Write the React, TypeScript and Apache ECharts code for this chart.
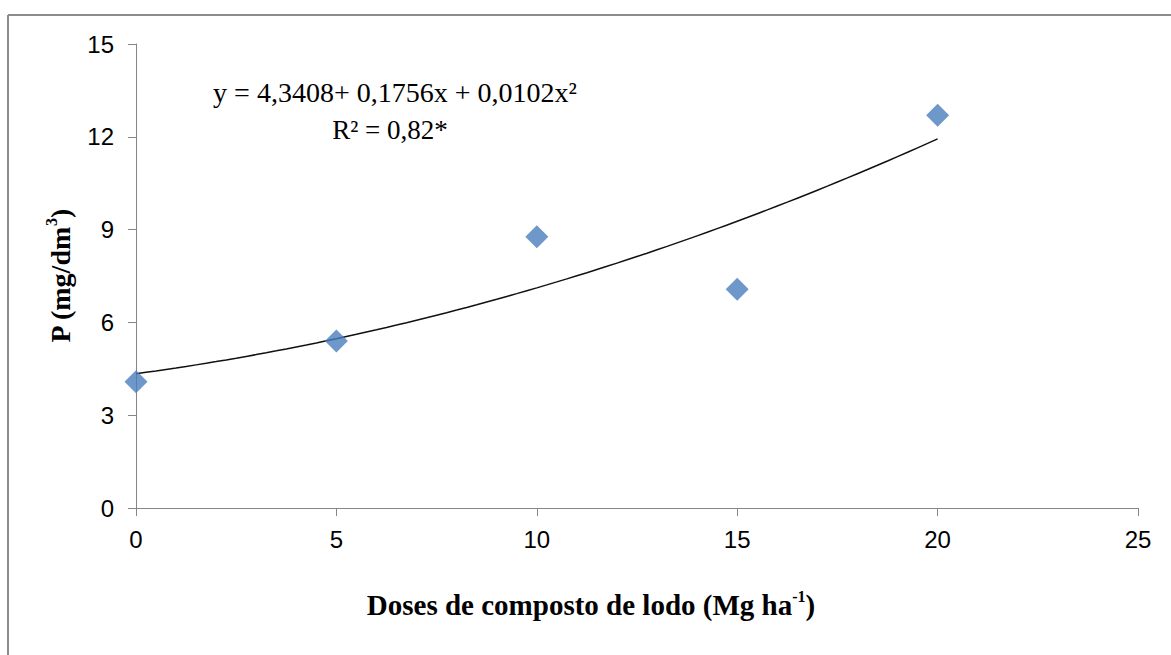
import React, { useEffect, useRef } from "react";
import * as echarts from "echarts";

// Doses of sludge compost (Mg ha-1) and measured soil P (mg/dm3)
const doses = [0, 5, 10, 15, 20];
const phosphorus = [4.08, 5.4, 8.77, 7.07, 12.7];

// Quadratic regression: y = c0 + c1 x + c2 x^2
const coefficients = [4.3408, 0.1756, 0.0102];
const rSquared = "0,82*";

const xTicks = { min: 0, max: 25, interval: 5 };
const yTicks = { min: 0, max: 15, interval: 3 };

const fitCurve = (): number[][] => {
  const pts: number[][] = [];
  const [c0, c1, c2] = coefficients;
  const last = doses[doses.length - 1];
  for (let i = 0; i <= 80; i++) {
    const x = (last * i) / 80;
    pts.push([x, c0 + c1 * x + c2 * x * x]);
  }
  return pts;
};

const fmt = (v: number) => v.toFixed(4).replace(".", ",");

export default function App() {
  const ref = useRef<HTMLDivElement>(null);

  useEffect(() => {
    if (!ref.current) return;
    const chart = echarts.init(ref.current, null, { renderer: "svg" });
    const axisGray = "#868686";
    const serif = "'Liberation Serif', 'Times New Roman', serif";
    const sans = "'Liberation Sans', Arial, sans-serif";

    const equation = `y = ${fmt(coefficients[0])}+ ${fmt(coefficients[1])}x + ${fmt(
      coefficients[2]
    )}x²`;

    const titleRich = (size: number) => ({
      t: { fontFamily: serif, fontWeight: "bold", fontSize: size, color: "#000", lineHeight: 32, verticalAlign: "bottom" },
      s: { fontFamily: serif, fontWeight: "bold", fontSize: 16, color: "#000", lineHeight: 32, verticalAlign: "top", padding: [1, 0, 0, 0] },
    });

    chart.setOption({
      animation: false,
      backgroundColor: "#ffffff",
      grid: { left: 136, right: 33, top: 44, bottom: 147, containLabel: false },
      xAxis: {
        type: "value",
        min: xTicks.min,
        max: xTicks.max,
        interval: xTicks.interval,
        splitLine: { show: false },
        axisLine: { show: true, onZero: false, lineStyle: { color: axisGray, width: 1 } },
        axisTick: { show: true, inside: false, length: 8, lineStyle: { color: axisGray } },
        axisLabel: { color: "#000", fontFamily: sans, fontSize: 24, margin: 19 },
      },
      yAxis: {
        type: "value",
        min: yTicks.min,
        max: yTicks.max,
        interval: yTicks.interval,
        splitLine: { show: false },
        axisLine: { show: true, lineStyle: { color: axisGray, width: 1 } },
        axisTick: { show: true, inside: false, length: 8, lineStyle: { color: axisGray } },
        axisLabel: { color: "#000", fontFamily: sans, fontSize: 24, margin: 22 },
        name: "{t|P (mg/dm}{s|3}{t|)}",
        nameLocation: "middle",
        nameGap: 62,
        nameRotate: 90,
        nameTextStyle: { rich: titleRich(28) },
      },
      series: [
        {
          name: "Ajuste",
          type: "line",
          data: fitCurve(),
          showSymbol: false,
          smooth: false,
          lineStyle: { color: "#111", width: 1.5 },
          z: 2,
        },
        {
          name: "P",
          type: "scatter",
          data: doses.map((d, i) => [d, phosphorus[i]]),
          symbol: "diamond",
          symbolSize: 23,
          itemStyle: { color: "#4A7EBB" },
          z: 3,
        },
      ],
      graphic: [
        {
          type: "line",
          shape: { x1: 8, y1: 15, x2: 1171, y2: 15 },
          style: { stroke: "#8c8c8c", lineWidth: 2 },
        },
        {
          type: "line",
          shape: { x1: 8, y1: 15, x2: 8, y2: 655 },
          style: { stroke: "#8c8c8c", lineWidth: 2 },
        },
        {
          type: "text",
          x: 591,
          y: 603,
          style: {
            text: "{t|Doses de composto de lodo (Mg ha}{s|-1}{t|)}",
            rich: titleRich(29),
            align: "center",
            verticalAlign: "middle",
          },
        },
        {
          type: "text",
          x: 395,
          y: 92,
          style: {
            text: equation,
            font: `28px ${serif}`,
            fill: "#000",
            align: "center",
            verticalAlign: "middle",
          },
        },
        {
          type: "text",
          x: 390,
          y: 130,
          style: {
            text: `R² = ${rSquared}`,
            font: `27px ${serif}`,
            fill: "#000",
            align: "center",
            verticalAlign: "middle",
          },
        },
      ],
    });

    return () => chart.dispose();
  }, []);

  return (
    <div
      ref={ref}
      style={{ position: "fixed", left: 0, top: 0, width: 1171, height: 655, background: "#fff" }}
    />
  );
}
